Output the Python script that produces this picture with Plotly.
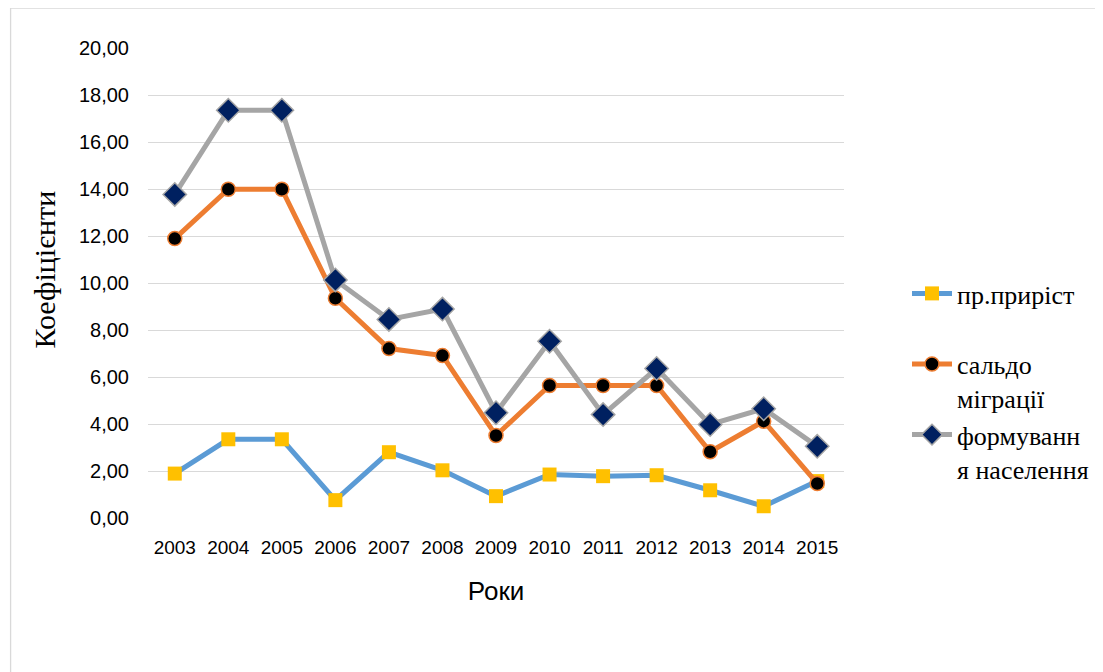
import plotly.graph_objects as go

years = ["2003", "2004", "2005", "2006", "2007", "2008", "2009",
         "2010", "2011", "2012", "2013", "2014", "2015"]
natural_growth = [1.89, 3.35, 3.35, 0.76, 2.80, 2.03, 0.93, 1.85, 1.78, 1.82, 1.18, 0.50, 1.57]
migration_balance = [11.89, 13.99, 13.99, 9.35, 7.21, 6.91, 3.51, 5.64, 5.64, 5.64, 2.82, 4.12, 1.47]
population_formation = [13.77, 17.35, 17.35, 10.13, 8.45, 8.89, 4.48, 7.52, 4.40, 6.36, 3.98, 4.65, 3.05]
y_ticks = [0, 2, 4, 6, 8, 10, 12, 14, 16, 18, 20]

# page has an 8px body margin, so the figure is drawn 8px in from the window edge
OFF = 8
W, H = 1103 - OFF, 672 - OFF
L, R, T, B = 147.5 - OFF, 844 - OFF, 48 - OFF, 518 - OFF

fig = go.Figure()
fig.add_trace(go.Scatter(
    x=years, y=natural_growth, name="пр.приріст<br>\u00a0", mode="lines+markers",
    line=dict(color="#5B9BD5", width=5),
    marker=dict(symbol="square", size=14, color="#FFC000", line=dict(width=0)),
))
fig.add_trace(go.Scatter(
    x=years, y=migration_balance, name="сальдо<br>міграції", mode="lines+markers",
    line=dict(color="#ED7D31", width=5),
    marker=dict(symbol="circle", size=14, color="#000000", line=dict(color="#ED7D31", width=1.5)),
))
fig.add_trace(go.Scatter(
    x=years, y=population_formation, name="формуванн<br>я населення", mode="lines+markers",
    line=dict(color="#A5A5A5", width=5),
    marker=dict(symbol="diamond", size=18, color="#002060", line=dict(color="#A5A5A5", width=1.5)),
))


def px_x(v):
    return (v - OFF - L) / (R - L)


def px_y(v):
    return (B - (v - OFF)) / (B - T)


fig.update_layout(
    width=W, height=H,
    margin=dict(l=L, r=W - R, t=T, b=H - B),
    plot_bgcolor="white", paper_bgcolor="white",
    separators=", ",
    showlegend=True,
    legend=dict(
        xref="container", yref="container",
        x=899 / W, y=1 - 262 / H, xanchor="left", yanchor="top",
        font=dict(family="Liberation Serif", size=26, color="#000000"),
        valign="top", itemwidth=40, bgcolor="rgba(0,0,0,0)",
    ),
    xaxis=dict(
        type="category", range=[-0.5, 12.5],
        showgrid=False, showline=False, ticks="",
        tickfont=dict(family="Liberation Sans", size=19, color="#000000"),
        ticklabelstandoff=16,
        title=dict(text="Роки", font=dict(family="Liberation Sans", size=26, color="#000000"), standoff=24),
        fixedrange=True,
    ),
    yaxis=dict(
        range=[0, 20], tickvals=y_ticks, tickformat=".2f",
        showgrid=True, gridcolor="#D9D9D9", gridwidth=1.3,
        zeroline=False, showline=False, ticks="",
        tickfont=dict(family="Liberation Sans", size=20, color="#000000"),
        ticklabelstandoff=18,
    ),
    annotations=[dict(
        text="Коефіцієнти", textangle=-90,
        xref="paper", yref="paper", x=px_x(43), y=px_y(270),
        xanchor="center", yanchor="middle", showarrow=False,
        font=dict(family="Liberation Serif", size=30, color="#000000"),
    )],
    shapes=[dict(
        type="rect", xref="paper", yref="paper",
        x0=px_x(10), x1=px_x(1120), y0=px_y(700), y1=px_y(8),
        line=dict(color="#D9D9D9", width=1.3), layer="below",
    )],
)

fig.write_html("out.html")
